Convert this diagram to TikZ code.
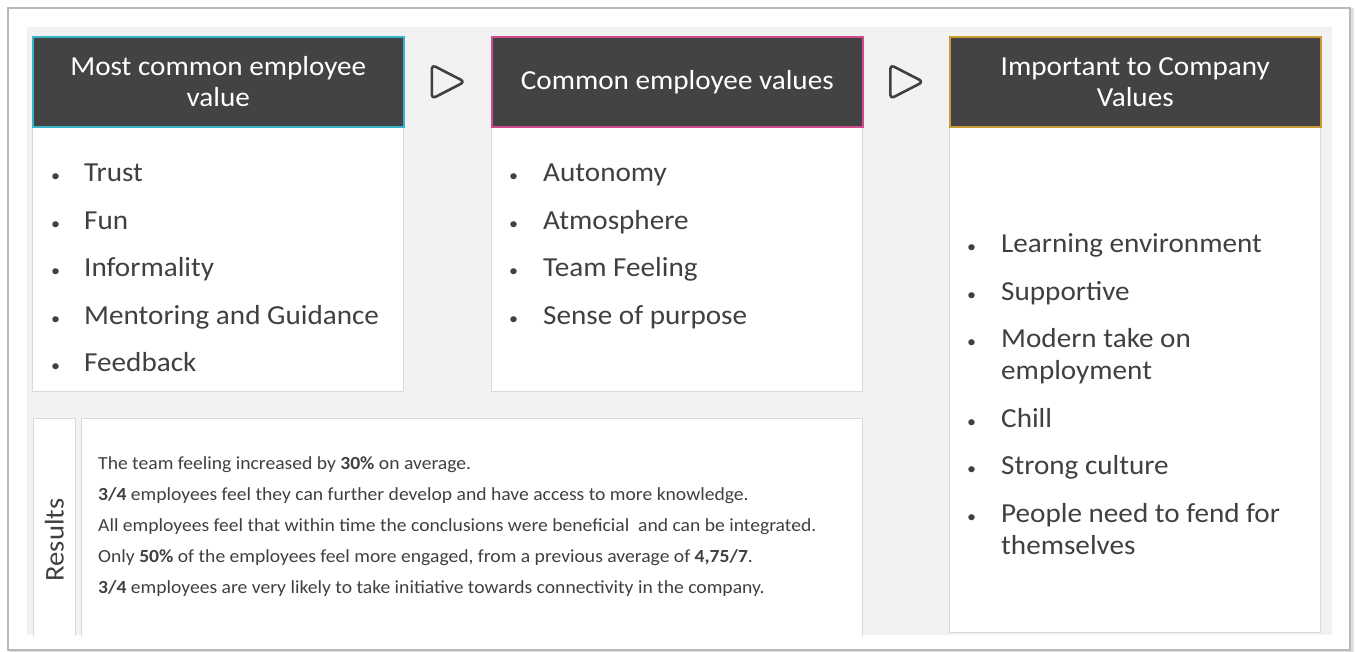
\documentclass[tikz,border=0pt]{standalone}
\usepackage{fontspec}
\setmainfont{Carlito}[FakeStretch=1.06]
\usetikzlibrary{calc}

\definecolor{headgrey}{HTML}{434343}
\definecolor{textgrey}{HTML}{404040}
\definecolor{bggrey}{HTML}{F2F2F2}
\definecolor{boxline}{HTML}{D9D9D9}
\definecolor{tealline}{HTML}{38B5C8}
\definecolor{pinkline}{HTML}{D44A8E}
\definecolor{goldline}{HTML}{C89B35}

\newcommand\bul{{\fontsize{17}{17}\selectfont\textbullet}}

\begin{document}
\begin{tikzpicture}[x=1pt,y=-1pt,
  head/.style={fill=headgrey,text=white,line width=1.6pt,minimum width=371pt,minimum height=90pt,
    inner sep=0pt,align=center,font=\fontsize{27.5}{31}\selectfont,anchor=north west},
  panel/.style={fill=white,draw=boxline,line width=0.8pt,inner sep=0pt,anchor=north west},
  listtext/.style={text=textgrey,font=\fontsize{27.5}{32}\selectfont,inner sep=0pt,anchor=north west},
  playtri/.style={draw=textgrey,line width=2.6pt,rounded corners=4pt,line join=round}]

\useasboundingbox (0,0) rectangle (1357,652) ;

% frame and background
\fill[white] (0,0) rectangle (1357,652) ;
\draw[gray!25,line width=3pt] (10,10) rectangle (1352,652) ;
\draw[gray!55,line width=1.5pt,fill=white] (8,8) rectangle (1350,650) ;
\fill[bggrey] (27,27) rectangle (1332,635) ;

% panels
\node[panel,minimum width=371pt,minimum height=265pt] (b1) at (32,126) {} ;
\node[panel,minimum width=371pt,minimum height=265pt] (b2) at (491,126) {} ;
\node[panel,minimum width=371pt,minimum height=506pt] (b3) at (949,126) {} ;

\begin{scope}
\clip (27,27) rectangle (1332,635) ;
\node[panel,minimum width=42pt,minimum height=230pt] (res) at (33,418) {} ;
\node[panel,minimum width=781pt,minimum height=230pt] (rtext) at (81,418) {} ;
\end{scope}

% headers
\node[head,draw=tealline] (h1) at (32,36) {Most common employee\\value} ;
\node[head,draw=pinkline] (h2) at (491,36) {Common employee values} ;
\node[head,draw=goldline] (h3) at (949,36) {Important to Company\\Values} ;

% arrows
\coordinate (t1) at ($(h1.east)!0.5!(h2.west)$) ;
\coordinate (t2) at ($(h2.east)!0.5!(h3.west)$) ;
\draw[playtri] ($(t1)+(-16,-17)$) -- ($(t1)+(17,0)$) -- ($(t1)+(-16,17)$) -- cycle ;
\draw[playtri] ($(t2)+(-16,-17)$) -- ($(t2)+(17,0)$) -- ($(t2)+(-16,17)$) -- cycle ;

% lists
\node[listtext] (l1) at (51,159) {\begin{tabular}{@{}p{33pt}@{}l@{}}
\bul & Trust\\[15.5pt]
\bul & Fun\\[15.5pt]
\bul & Informality\\[15.5pt]
\bul & Mentoring and Guidance\\[15.5pt]
\bul & Feedback
\end{tabular}} ;

\node[listtext] (l2) at (509,159) {\begin{tabular}{@{}p{34pt}@{}l@{}}
\bul & Autonomy\\[15.5pt]
\bul & Atmosphere\\[15.5pt]
\bul & Team Feeling\\[15.5pt]
\bul & Sense of purpose
\end{tabular}} ;

\node[listtext] (l3) at (967,230) {\begin{tabular}{@{}p{34pt}@{}l@{}}
\bul & Learning environment\\[15.5pt]
\bul & Supportive\\[15.5pt]
\bul & Modern take on\\
     & employment\\[15.5pt]
\bul & Chill\\[15.5pt]
\bul & Strong culture\\[15.5pt]
\bul & People need to fend for\\
     & themselves
\end{tabular}} ;

% results
\node[text=textgrey,font=\fontsize{27}{27}\selectfont,rotate=90,inner sep=0pt] (rlabel) at (res.center |- 0,540) {Results} ;
\node[text=textgrey,font=\fontsize{18.5}{31}\selectfont,inner sep=0pt,anchor=north west] (rlist) at (98,448) {\begin{tabular}{@{}l@{}}
The team feeling increased by \textbf{30\%} on average.\\
\textbf{3/4} employees feel they can further develop and have access to more knowledge.\\
All employees feel that within time the conclusions were beneficial \ and can be integrated.\\
Only \textbf{50\%} of the employees feel more engaged, from a previous average of \textbf{4,75/7}.\\
\textbf{3/4} employees are very likely to take initiative towards connectivity in the company.
\end{tabular}} ;

\end{tikzpicture}
\end{document}
